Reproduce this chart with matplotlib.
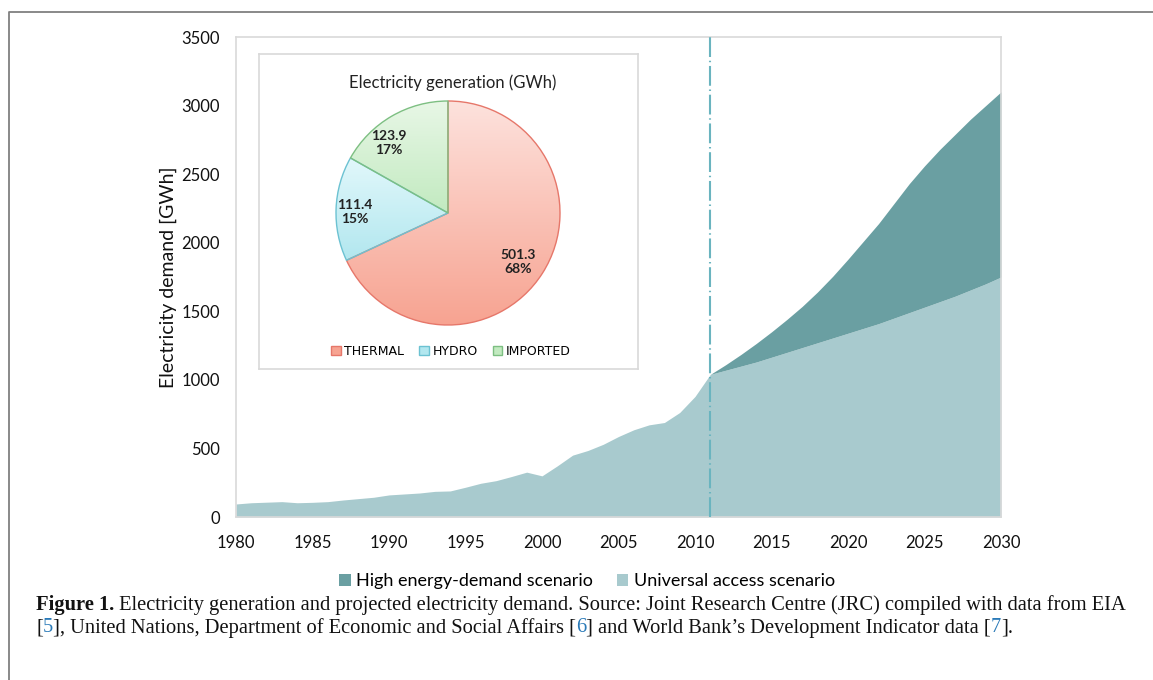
import numpy as np
import matplotlib
matplotlib.use("Agg")
import matplotlib.pyplot as plt
from matplotlib.patches import Patch
from matplotlib.lines import Line2D
from matplotlib.colors import to_rgb

# ---------------- data ----------------
years_hist = list(range(1980, 2012))
demand_hist = [95, 104, 108, 112, 104, 107, 112, 124, 134, 144, 161, 168, 175, 187,
               190, 217, 246, 265, 295, 327, 300, 373, 451, 485, 530, 587, 636, 672,
               689, 762, 879, 1040]
years_proj = list(range(2011, 2031))
universal_access = [1040, 1070, 1100, 1130, 1165, 1200, 1235, 1270, 1305, 1340,
                    1375, 1410, 1450, 1490, 1530, 1570, 1610, 1655, 1700, 1750]
high_demand = [1040, 1110, 1185, 1265, 1350, 1440, 1535, 1640, 1755, 1880,
               2010, 2140, 2285, 2430, 2560, 2680, 2790, 2900, 3000, 3100]
split_year = 2011

pie_labels = ["THERMAL", "HYDRO", "IMPORTED"]
pie_values = [501.3, 111.4, 123.9]
pie_text = ["501.3\n68%", "111.4\n15%", "123.9\n17%"]

x_ticks = list(range(1980, 2031, 5))
y_ticks = list(range(0, 3501, 500))

# ---------------- style ----------------
W, H = 1153, 680
LIGHT = "#a8cace"
DARK = "#6a9fa2"
FRAME = "#d9d9d9"
SANS = ["Lato", "DejaVu Sans"]

fig = plt.figure(figsize=(W / 100, H / 100), dpi=100)
fig.patch.set_facecolor("white")

def fx(px):
    return px / W

def fy(py):
    return 1 - py / H

# main axes
ax_l, ax_r, ax_t, ax_b = 236, 1001, 37, 517
ax = fig.add_axes([fx(ax_l), fy(ax_b), fx(ax_r - ax_l), (ax_b - ax_t) / H])
all_years = years_hist + years_proj[1:]
all_light = demand_hist + universal_access[1:]
ax.fill_between(all_years, 0, all_light, color=LIGHT, linewidth=0, zorder=2)
ax.fill_between(years_proj, universal_access, high_demand, color=DARK, linewidth=0, zorder=2)
ax.axvline(split_year, color="#6ab4bf", lw=1.5, ls=(0, (9.5, 1.8, 0.7, 1.8)), zorder=3)
ax.set_xlim(1980, 2030)
ax.set_ylim(0, 3500)
ax.set_xticks(x_ticks)
ax.set_yticks(y_ticks)
ax.tick_params(length=0, labelsize=12, labelcolor="#111111")
ax.tick_params(axis="y", pad=11.5)
ax.tick_params(axis="x", pad=13)
for lab in ax.get_xticklabels() + ax.get_yticklabels():
    lab.set_family(SANS)
for s in ax.spines.values():
    s.set_color(FRAME)
    s.set_linewidth(1.2)
ax.set_ylabel("Electricity demand [GWh]", fontsize=14, family=SANS, color="#111111", labelpad=3)

# main legend
fig.legend(handles=[Patch(facecolor=DARK, edgecolor="none"),
                    Patch(facecolor=LIGHT, edgecolor="none")],
           labels=["High energy-demand scenario", "Universal access scenario"],
           ncol=2, loc="center", bbox_to_anchor=(fx(587), fy(581)), frameon=False,
           prop={"family": SANS, "size": 13}, handlelength=0.65, handleheight=0.65,
           handletextpad=0.3, columnspacing=1.3)

# inset box
bx0, by0, bx1, by1 = 259, 54, 638, 369
box = fig.add_axes([fx(bx0), fy(by1), fx(bx1 - bx0), (by1 - by0) / H])
box.set_xticks([])
box.set_yticks([])
box.set_facecolor("white")
for s in box.spines.values():
    s.set_color(FRAME)
    s.set_linewidth(1.2)
fig.text(fx(453), fy(83), "Electricity generation (GWh)", ha="center", va="center",
         fontsize=12, family=SANS, color="#222222")

# pie
cx, cy, R, PR = 448, 213, 118, 112
pax = fig.add_axes([fx(cx - R), fy(cy + R), fx(2 * R), 2 * R / H])
pax.set_zorder(5)
grads = [("#fde2dd", "#f7a391"), ("#e2f8fb", "#b2e7ef"), ("#e8f7e6", "#c2eac0")]
edges = ["#e6776a", "#6cc2d2", "#7dbf82"]
wedges, _ = pax.pie(pie_values, startangle=90, counterclock=False,
                    colors=[g[1] for g in grads],
                    wedgeprops=dict(linewidth=1.0))
lim = R / PR
pax.set_xlim(-lim, lim)
pax.set_ylim(-lim, lim)
pax.set_aspect("auto")
for w, (c1, c2), ec in zip(wedges, grads, edges):
    w.set_edgecolor(ec)
    bb = w.get_path().get_extents()
    c1r, c2r = np.array(to_rgb(c1)), np.array(to_rgb(c2))
    t = np.linspace(0, 1, 200)[:, None, None]
    img = c1r[None, None, :] * (1 - t) + c2r[None, None, :] * t
    im = pax.imshow(img, extent=(bb.x0, bb.x1, bb.y0, bb.y1), origin="upper",
                    aspect="auto", interpolation="bilinear", zorder=1)
    im.set_clip_path(w)
    w.set_facecolor("none")
    w.set_zorder(2)
pax.set_xlim(-lim, lim)
pax.set_ylim(-lim, lim)
pax.axis("off")

label_pos = [(518, 262), (355, 212), (389, 143)]
for (px, py), txt in zip(label_pos, pie_text):
    fig.text(fx(px), fy(py), txt, ha="center", va="center", fontsize=10,
             fontweight="bold", family=SANS, color="#222222", linespacing=1.25, zorder=10)

fig.legend(handles=[Patch(facecolor=g[1], edgecolor=e) for g, e in zip(grads, edges)],
           labels=pie_labels, ncol=3, loc="center", bbox_to_anchor=(fx(451), fy(351)),
           frameon=False, prop={"family": ["DejaVu Sans"], "size": 9},
           handlelength=0.75, handleheight=0.75, handletextpad=0.3, columnspacing=1.2)

# figure border
fig.add_artist(Line2D([fx(9), fx(9), 1], [0, fy(12), fy(12)], transform=fig.transFigure,
                      color="#808080", lw=1.3))

# caption
renderer = fig.canvas.get_renderer()
SERIF = ["Liberation Serif", "DejaVu Serif"]
BLUE = "#2a7ab8"
line1 = [("Figure 1.", "bold", "#111111"),
         (" Electricity generation and projected electricity demand. Source: Joint Research Centre (JRC) compiled with data from EIA", "normal", "#111111")]
line2 = [("[", "normal", "#111111"), ("5", "normal", BLUE),
         ("], United Nations, Department of Economic and Social Affairs [", "normal", "#111111"),
         ("6", "normal", BLUE),
         ("] and World Bank\u2019s Development Indicator data [", "normal", "#111111"),
         ("7", "normal", BLUE), ("].", "normal", "#111111")]

def draw_line(pieces, x0, y, size):
    x = x0
    arts = []
    for txt, wt, col in pieces:
        t = fig.text(x / W, fy(y), txt, fontsize=size, fontweight=wt, color=col,
                     family=SERIF, ha="left", va="center")
        bb = t.get_window_extent(renderer)
        x = bb.x1
        arts.append(t)
    return arts, x - x0

arts, width = draw_line(line1, 36, 605, 12)
for a in arts:
    a.remove()
size = 12 * (1123 - 36) / width
draw_line(line1, 36, 605, size)
draw_line(line2, 36, 628, size)

fig.savefig("out.png", dpi=100, facecolor="white")
